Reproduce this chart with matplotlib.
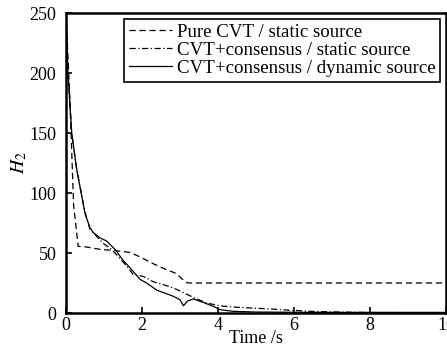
import matplotlib
matplotlib.use("Agg")
from matplotlib import pyplot as plt

plt.rcParams['font.family'] = ['Liberation Serif', 'DejaVu Serif']
plt.rcParams['mathtext.fontset'] = 'stix'

# pure CVT / static source
t_pure = [0, 0.1, 0.2, 0.32, 0.54, 0.9, 1.3, 1.68, 1.95, 2.3, 2.65, 2.9, 3.07, 3.2, 4, 6, 8, 10]
h_pure = [250, 180, 90, 55.5, 55, 53, 52, 50.5, 46.7, 41, 36, 33, 28, 25, 25, 25, 25, 25]

# CVT+consensus / static source
t_cs = [0, 0.05, 0.15, 0.28, 0.5, 0.63, 0.8, 0.98, 1.16, 1.33, 1.6, 1.77, 2.03, 2.3, 2.56, 2.82,
        3.09, 3.35, 3.7, 4.05, 4.4, 4.84, 5.3, 5.8, 6.5, 7.2, 8, 9, 10]
h_cs = [250, 202, 150, 120, 84, 70, 64, 58, 54, 48.6, 39, 32, 30.5, 26, 23.6, 21,
        17, 13, 8.3, 6, 5, 4.2, 3.5, 2.5, 1.3, 0.8, 0.4, 0.3, 0.2]

# CVT+consensus / dynamic source
t_cd = [0, 0.05, 0.15, 0.28, 0.5, 0.63, 0.72, 0.9, 1.07, 1.29, 1.5, 1.73, 1.95, 2.12, 2.39, 2.65,
        2.82, 3.0, 3.09, 3.2, 3.35, 3.6, 3.88, 4.05, 4.4, 5, 6, 7, 8, 9, 10]
h_cd = [250, 201, 150, 120, 83, 71, 67, 62.5, 60, 53, 44, 36, 28, 25, 19, 16,
        14, 11, 6, 10, 11.7, 9, 5.5, 2.8, 1.4, 0.8, 0.6, 0.5, 0.5, 0.5, 0.5]

fig = plt.figure(figsize=(4.47, 3.49), dpi=100)
ax = fig.add_axes([66 / 447, 36 / 349, 380 / 447, 300 / 349])

ax.plot(t_pure, h_pure, 'k--', lw=0.9, dashes=(5, 3), label='Pure CVT / static source')
ax.plot(t_cs, h_cs, 'k-.', lw=0.9, dashes=(5, 2, 1, 2), label='CVT+consensus / static source')
ax.plot(t_cd, h_cd, 'k-', lw=0.9, label='CVT+consensus / dynamic source')

ax.set_xlim(0, 10)
ax.set_ylim(0, 250)
ax.set_xticks([0, 2, 4, 6, 8, 10])
ax.set_yticks([0, 50, 100, 150, 200, 250])
ax.tick_params(direction='in', length=4, width=1.2, labelsize=13)
ax.tick_params(axis='y', pad=7)
ax.tick_params(axis='x', pad=3)
for s in ax.spines.values():
    s.set_linewidth(1.8)

ax.set_xlabel('Time /s', fontsize=13, labelpad=-3)
ax.set_ylabel('$H_2$', fontsize=14, labelpad=0)

leg = ax.legend(loc='upper right', fontsize=13.6, handlelength=2.3, handletextpad=0.25,
                borderpad=0.25, labelspacing=0.05, borderaxespad=0.3, fancybox=False,
                framealpha=1)
leg.get_frame().set_edgecolor('black')
leg.get_frame().set_linewidth(1.2)

fig.savefig('out.png', dpi=100)
